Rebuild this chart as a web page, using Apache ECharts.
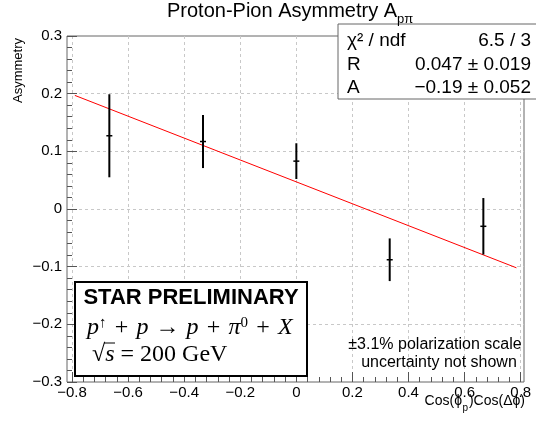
<!DOCTYPE html>
<html>
<head>
<meta charset="utf-8">
<script src="https://cdn.jsdelivr.net/npm/echarts@6/dist/echarts.min.js"></script>
<style>html,body{margin:0;padding:0;background:#fff}#c{width:536px;height:421px}</style>
</head>
<body>
<div id="c"></div>
<script>
// ---- data ----
const xValues = [-0.667, -0.333, 0, 0.333, 0.667];
const asymmetry = [0.127, 0.117, 0.083, -0.088, -0.030];
const errors = [0.072, 0.046, 0.031, 0.037, 0.049];
const fitX = [-0.79, 0.785];
const fitY = [0.197, -0.102];
const statNames = ['χ² / ndf', 'R', 'A'];
const statValues = ['6.5 / 3', '0.047 ± 0.019', '−0.19 ± 0.052'];

const FONT = 'Liberation Sans';
const fmt = v => { const r = Math.round(v * 10) / 10; return r === 0 ? '0' : (r < 0 ? '−' : '') + Math.abs(r).toFixed(1); };

const points = xValues.map((x, i) => [x, asymmetry[i], errors[i]]);
const fitLine = fitX.map((x, i) => [x, fitY[i]]);

const chart = echarts.init(document.getElementById('c'), null, {renderer: 'canvas'});
const TOP = 36, BOTTOM = 39;
const tickColor = '#555';
const gridLine = {show: true, lineStyle: {color: '#c8c8c8', type: [3, 3], width: 1}};

const serifI = 'italic 24px "Liberation Serif"';
const serifR = '24px "Liberation Serif"';

const graphics = [
  // title
  {type: 'text', left: 167, top: 1, style: {text: 'Proton-Pion Asymmetry A', font: '20px ' + FONT, fill: '#000'}},
  {type: 'text', left: 397, top: 13, style: {text: 'pπ', font: '13px ' + FONT, fill: '#000'}, z: 102},
  // y title
  {type: 'text', x: 12, y: 38, rotation: Math.PI / 2, style: {text: 'Asymmetry', font: '13px ' + FONT, fill: '#000', align: 'right', verticalAlign: 'top'}},
  // x title
  {type: 'text', x: 525, y: 401, style: {text: ')Cos(Δϕ)', font: '14px ' + FONT, fill: '#000', align: 'right', verticalAlign: 'middle'}, z: 10},
  {type: 'text', x: 468, y: 408, style: {text: 'p', font: '10px ' + FONT, fill: '#000', align: 'right', verticalAlign: 'middle'}, z: 10},
  {type: 'text', x: 462, y: 401, style: {text: 'Cos(ϕ', font: '14px ' + FONT, fill: '#000', align: 'right', verticalAlign: 'middle'}, z: 10},
  // stats box
  {type: 'rect', shape: {x: 338, y: 24, width: 210, height: 75}, style: {fill: '#fff', stroke: '#666', lineWidth: 1}, z: 100},
  // STAR box
  {type: 'rect', shape: {x: 75, y: 282, width: 232, height: 94}, style: {fill: '#fff', stroke: '#000', lineWidth: 2}, z: 100},
  {type: 'text', x: 191, y: 298, style: {text: 'STAR PRELIMINARY', font: 'bold 22px ' + FONT, fill: '#000', align: 'center', verticalAlign: 'middle'}, z: 101},
  {type: 'text', x: 87, y: 328, style: {
      text: '{i|p}{s|↑}{pl|+}{i|p}{ar|→}{i|p}{pl|+}{i|π}{s|0}{pl|+}{i|X}',
      verticalAlign: 'middle',
      rich: {
        i: {font: serifI, fill: '#000'},
        pl: {font: serifR, fill: '#000', width: 30, align: 'center'},
        ar: {font: serifR, fill: '#000', width: 38, align: 'center'},
        s: {font: '15px "Liberation Serif"', fill: '#000', verticalAlign: 'top'}
      }}, z: 101},
  {type: 'text', x: 92, y: 355, style: {
      text: '{r|√}{i|s}{r| = 200 GeV}',
      verticalAlign: 'middle',
      rich: {
        i: {font: serifI, fill: '#000'},
        r: {font: serifR, fill: '#000'}
      }}, z: 101},
  {type: 'line', shape: {x1: 104, y1: 343, x2: 115, y2: 343}, style: {stroke: '#000', lineWidth: 1}, z: 101},
  // polarization note
  {type: 'text', x: 435, y: 345, style: {text: '±3.1% polarization scale', font: '16px ' + FONT, fill: '#000', align: 'center', verticalAlign: 'middle'}, z: 10},
  {type: 'text', x: 439, y: 363, style: {text: 'uncertainty not shown', font: '16px ' + FONT, fill: '#000', align: 'center', verticalAlign: 'middle'}, z: 10}
];
statNames.forEach((n, i) => {
  graphics.push({type: 'text', x: 347, y: 41 + i * 23.5, style: {text: n, font: '19px ' + FONT, fill: '#000', verticalAlign: 'middle'}, z: 101});
  graphics.push({type: 'text', x: 531, y: 41 + i * 23.5, style: {text: statValues[i], font: '19px ' + FONT, fill: '#000', align: 'right', verticalAlign: 'middle'}, z: 101});
});

chart.setOption({
  animation: false,
  backgroundColor: '#fff',
  grid: [
    {left: 67, right: 12, top: TOP, bottom: BOTTOM, show: true, borderColor: '#666', borderWidth: 1, backgroundColor: '#fff'},
    {left: 72, right: 15.3, top: TOP, bottom: BOTTOM}
  ],
  xAxis: [
    {gridIndex: 0, type: 'value', min: -0.818, max: 0.812, show: false, axisLine: {onZero: false}},
    {gridIndex: 1, type: 'value', min: -0.8, max: 0.8, interval: 0.2, position: 'bottom',
     axisLine: {show: false, onZero: false},
     axisTick: {show: true, inside: true, length: 10, lineStyle: {color: tickColor}},
     minorTick: {show: true, splitNumber: 5, length: 5, lineStyle: {color: tickColor}},
     axisLabel: {formatter: fmt, fontFamily: FONT, fontSize: 15, color: '#000', margin: 3},
     splitLine: gridLine}
  ],
  yAxis: [
    {gridIndex: 0, type: 'value', min: -0.3, max: 0.3, interval: 0.1, position: 'left',
     axisLine: {show: false, onZero: false},
     axisTick: {show: true, inside: true, length: 10, lineStyle: {color: tickColor}},
     minorTick: {show: true, splitNumber: 5, length: 5, lineStyle: {color: tickColor}},
     axisLabel: {formatter: fmt, fontFamily: FONT, fontSize: 15, color: '#000', margin: 5},
     splitLine: Object.assign({showMinLine: false, showMaxLine: false}, gridLine)},
    {gridIndex: 1, type: 'value', min: -0.3, max: 0.3, show: false, axisLine: {onZero: false}}
  ],
  graphic: graphics,
  series: [
    {type: 'line', xAxisIndex: 0, yAxisIndex: 0, data: fitLine, showSymbol: false, symbol: 'none',
     lineStyle: {color: '#ff0000', width: 1}, z: 3},
    {type: 'custom', xAxisIndex: 0, yAxisIndex: 0, data: points, z: 4,
     renderItem: function (params, api) {
       const x = api.value(0), y = api.value(1), e = api.value(2);
       const t = api.coord([x, y + e]), b = api.coord([x, y - e]), c = api.coord([x, y]);
       return {type: 'group', children: [
         {type: 'line', shape: {x1: t[0], y1: t[1], x2: b[0], y2: b[1]}, style: {stroke: '#000', lineWidth: 2}},
         {type: 'line', shape: {x1: c[0] - 3, y1: c[1], x2: c[0] + 3, y2: c[1]}, style: {stroke: '#000', lineWidth: 1.5}}
       ]};
     }}
  ]
});
</script>
</body>
</html>
